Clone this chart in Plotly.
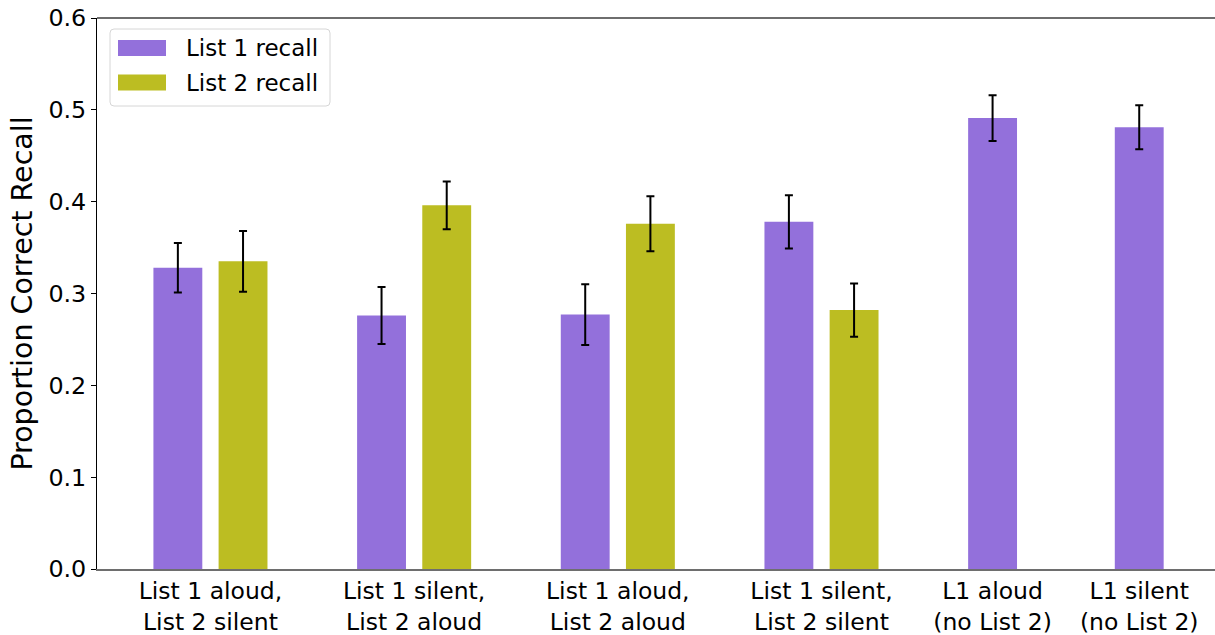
import plotly.graph_objects as go

# ---- data -------------------------------------------------------------
conditions = [
    "List 1 aloud,<br>List 2 silent",
    "List 1 silent,<br>List 2 aloud",
    "List 1 aloud,<br>List 2 aloud",
    "List 1 silent,<br>List 2 silent",
    "L1 aloud<br>(no List 2)",
    "L1 silent<br>(no List 2)",
]
list1_recall = [0.328, 0.276, 0.277, 0.378, 0.491, 0.481]
list1_err = [0.027, 0.031, 0.033, 0.029, 0.025, 0.024]
list2_recall = [0.335, 0.396, 0.376, 0.282]
list2_err = [0.033, 0.026, 0.030, 0.029]
yticks = [0.0, 0.1, 0.2, 0.3, 0.4, 0.5, 0.6]

# ---- layout constants ------------------------------------------------
W, H = 1215, 635
M_L, M_R, M_T, M_B = 97, 0, 18, 66
centers = [0, 1, 2, 3, 3.84, 4.56]
bar_w = 0.24
offset = 0.16
PURPLE = "#9370DB"
OLIVE = "#BCBD22"
FONT = "DejaVu Sans"

x1 = [c - offset for c in centers[:4]] + centers[4:]
x2 = [c + offset for c in centers[:4]]

err_style = dict(type="data", color="black", thickness=2, width=4)

fig = go.Figure()
fig.add_trace(go.Bar(
    x=x1, y=list1_recall, width=bar_w, name="List 1 recall",
    marker=dict(color=PURPLE, line=dict(width=0)),
    error_y=dict(array=list1_err, **err_style),
))
fig.add_trace(go.Bar(
    x=x2, y=list2_recall, width=bar_w, name="List 2 recall",
    marker=dict(color=OLIVE, line=dict(width=0)),
    error_y=dict(array=list2_err, **err_style),
))

pw = W - M_L - M_R
ph = H - M_T - M_B


def px(xp):
    return (xp - M_L) / pw


def py(yp):
    return (H - M_B - yp) / ph


shapes = [
    # top frame line
    dict(type="line", xref="paper", yref="paper", x0=0, x1=1, y0=1, y1=1,
         line=dict(color="#6e6e6e", width=2)),
]

# legend box with rounded corners
bx0, bx1, by0, by1, r = 110, 330, 29, 106, 4
rx, ry = r / pw, r / ph
X0, X1, Y0, Y1 = px(bx0), px(bx1), py(by1), py(by0)
path = (f"M {X0+rx},{Y0} L {X1-rx},{Y0} Q {X1},{Y0} {X1},{Y0+ry} "
        f"L {X1},{Y1-ry} Q {X1},{Y1} {X1-rx},{Y1} L {X0+rx},{Y1} "
        f"Q {X0},{Y1} {X0},{Y1-ry} L {X0},{Y0+ry} Q {X0},{Y0} {X0+rx},{Y0} Z")
shapes.append(dict(type="path", xref="paper", yref="paper", path=path,
                   fillcolor="rgba(255,255,255,0.8)",
                   line=dict(color="#d6d6d6", width=1)))

annotations = []
legend_rows = [("List 1 recall", PURPLE, 48), ("List 2 recall", OLIVE, 82.5)]
for label, col, yc in legend_rows:
    shapes.append(dict(type="rect", xref="paper", yref="paper",
                       x0=px(118), x1=px(166), y0=py(yc + 8), y1=py(yc - 8),
                       fillcolor=col, line=dict(width=0)))
    annotations.append(dict(text=label, xref="paper", yref="paper",
                            x=px(184), y=py(yc), xanchor="left", yanchor="middle",
                            showarrow=False, font=dict(family=FONT, size=23, color="black")))

fig.update_layout(
    width=W, height=H,
    margin=dict(l=M_L, r=M_R, t=M_T, b=M_B, pad=0),
    plot_bgcolor="white", paper_bgcolor="white",
    barmode="overlay", showlegend=False,
    font=dict(family=FONT, size=23.5, color="black"),
    shapes=shapes, annotations=annotations,
    xaxis=dict(
        range=[-0.557, 4.932], tickmode="array", tickvals=centers,
        ticktext=conditions, ticks="", showgrid=False, zeroline=False,
        showline=True, linecolor="#6e6e6e", linewidth=2,
        tickfont=dict(family=FONT, size=23.5, color="black"),
    ),
    yaxis=dict(
        range=[0, 0.6], tickmode="array", tickvals=yticks,
        ticktext=[f"{v:.1f}" for v in yticks],
        ticks="outside", ticklen=5, tickwidth=1, tickcolor="black",
        showgrid=False, zeroline=False, showline=True, linecolor="black", linewidth=1,
        tickfont=dict(family=FONT, size=23.8, color="black"),
        title=dict(text="Proportion Correct Recall", standoff=7,
                   font=dict(family=FONT, size=28.5, color="black")),
    ),
)

fig.write_html("out.html")
